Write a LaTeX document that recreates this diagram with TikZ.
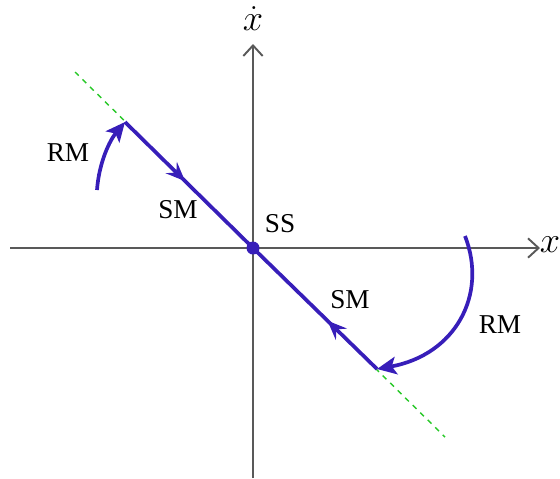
\documentclass[tikz,border=0pt]{standalone}
\usepackage{fontspec}
\setmainfont{Liberation Serif}
\usetikzlibrary{arrows.meta,decorations.markings}

\definecolor{trajblue}{RGB}{55,30,185}
\definecolor{slidegreen}{RGB}{40,200,40}

\begin{document}
\begin{tikzpicture}[x=0.02cm, y=-0.02cm,
  axis/.style={draw=black!65, line width=0.9pt, -{Straight Barb[length=6pt,width=11pt,line width=1.1pt]}},
  traj/.style={draw=trajblue, line width=2.1pt},
  midarrow/.style={postaction={decorate}, decoration={markings,
    mark=at position #1 with {\arrow{Stealth[length=11pt,width=9pt,inset=4pt]}}}},
  endarrow/.style={-{Stealth[length=11pt,width=10pt,inset=2.5pt]}},
  lbl/.style={font=\fontsize{15.5}{18}\selectfont, inner sep=0pt},
  axlbl/.style={font=\fontsize{21}{24}\selectfont, inner sep=0pt}]
\useasboundingbox (0,0) rectangle (560,478);
\coordinate (O) at (253,248);
\coordinate (A) at (125,122);
\coordinate (B) at (377,369);
\coordinate (G1) at (75,72);
\coordinate (G2) at (445,437);
\coordinate (xl) at (10,248);
\coordinate (xr) at (540,248);
\coordinate (yb) at (253,478);
\coordinate (yt) at (253,44);
\coordinate (L1) at (97,190);
\coordinate (R1) at (465,236);

\draw[axis] (xl) -- (xr);
\draw[axis] (yb) -- (yt);
\node[axlbl] (xlab) at (550,245) {$x$};
\node[axlbl] (ylab) at (253,19) {$\dot{x}$};

\draw[slidegreen, dashed, line width=0.8pt] (G1) -- (G2);

\draw[traj, midarrow=0.47] (A) -- (O);
\draw[traj, midarrow=0.40] (B) -- (O);
\draw[traj, endarrow] (L1) .. controls (99,162) and (110,140) .. (A);
\draw[traj, endarrow] (R1) .. controls (488,295) and (455,355) .. (B);
\fill[trajblue] (O) circle (6.5);

\node[lbl] (rm1) at (68,153) {RM};
\node[lbl] (sm1) at (178,210) {SM};
\node[lbl] (ss) at (280,224) {SS};
\node[lbl] (sm2) at (350,300) {SM};
\node[lbl] (rm2) at (500,325) {RM};
\end{tikzpicture}
\end{document}
